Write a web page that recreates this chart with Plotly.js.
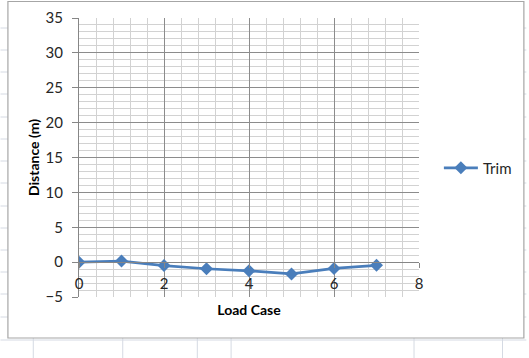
<!DOCTYPE html>
<html>
<head>
<meta charset="utf-8">
<script src="https://cdn.plot.ly/plotly-3.0.1.min.js"></script>
<style>
  html, body { margin: 0; padding: 0; background: #ffffff; }
  #chart { width: 529px; height: 358px; }
</style>
</head>
<body>
<div id="chart"></div>
<script>
// ---- data ----
const loadCase = [0, 1, 2, 3, 4, 5, 6, 7];
const trim = [0, 0.15, -0.5, -0.95, -1.25, -1.7, -0.9, -0.45];
const seriesName = "Trim";
const xTickVals = [0, 2, 4, 6, 8];
const yTickVals = [-5, 0, 5, 10, 15, 20, 25, 30, 35];

// ---- layout geometry (pixels) ----
const W = 529, H = 358;
const M = { l: 79, r: 108, t: 18, b: 61 };
const pw = W - M.l - M.r, ph = H - M.t - M.b;
const px = x => (x - M.l) / pw;          // page px -> paper x
const py = y => (H - M.b - y) / ph;      // page px -> paper y

const cellColor = "#d5dae3";
const shapes = [];
// spreadsheet cell lines (background)
[28, 50, 72, 94, 117, 139, 161, 183, 206, 228, 250, 272, 294, 317, 340].forEach(y => {
  shapes.push({ type: "line", xref: "paper", yref: "paper", layer: "below",
    x0: px(0), x1: px(W), y0: py(y), y1: py(y), line: { color: cellColor, width: 1 } });
});
[33, 123, 198, 232, 416, 505].forEach(x => {
  shapes.push({ type: "line", xref: "paper", yref: "paper", layer: "below",
    x0: px(x), x1: px(x), y0: py(338), y1: py(H), line: { color: cellColor, width: 1 } });
});
// chart area
shapes.push({ type: "rect", xref: "paper", yref: "paper", layer: "below",
  x0: px(7.5), x1: px(526.5), y0: py(338), y1: py(1.5),
  fillcolor: "#ffffff", line: { color: "#a6a6a6", width: 1.2 } });

const font = "Lato, 'Open Sans', 'DejaVu Sans', sans-serif";

const trace = {
  x: loadCase, y: trim, name: seriesName,
  type: "scatter", mode: "lines+markers",
  line: { color: "#4a7ebb", width: 2.75 },
  marker: { symbol: "diamond", size: 10, color: "#4a7ebb" }
};

const layout = {
  width: W, height: H,
  margin: M,
  paper_bgcolor: "#ffffff",
  plot_bgcolor: "rgba(0,0,0,0)",
  font: { family: font, size: 15, color: "#262626" },
  showlegend: true,
  legend: { x: px(441), y: py(168), xanchor: "left", yanchor: "middle",
    font: { family: font, size: 15, color: "#262626" }, bgcolor: "rgba(0,0,0,0)",
    itemwidth: 34 },
  xaxis: {
    range: [0, 8], tickvals: xTickVals, ticktext: xTickVals.map(String),
    anchor: "free", position: 5 / 40,
    showline: true, linecolor: "#868686", linewidth: 1,
    ticks: "outside", ticklen: 5, tickcolor: "#868686",
    ticklabelstandoff: 3,
    showgrid: true, gridcolor: "#8c8c8c", gridwidth: 1,
    minor: { dtick: 0.4, showgrid: true, gridcolor: "#d2d2d2", gridwidth: 1, ticks: "" },
    zeroline: false,
    title: { text: "<b>Load Case</b>", font: { family: font, size: 14, color: "#000" }, standoff: 14 },
    tickfont: { family: font, size: 15, color: "#262626" },
    fixedrange: true
  },
  yaxis: {
    range: [-5, 35], tickvals: yTickVals,
    showline: true, linecolor: "#868686", linewidth: 1,
    ticks: "outside", ticklen: 6, tickcolor: "#868686",
    ticklabelstandoff: 6,
    showgrid: true, gridcolor: "#8c8c8c", gridwidth: 1,
    minor: { dtick: 1, showgrid: true, gridcolor: "#d2d2d2", gridwidth: 1, ticks: "" },
    zeroline: false,
    title: { text: "<b>Distance (m)</b>", font: { family: font, size: 14, color: "#000" }, standoff: 2 },
    tickfont: { family: font, size: 15, color: "#262626" },
    fixedrange: true
  },
  shapes: shapes
};

Plotly.newPlot("chart", [trace], layout, { displayModeBar: false, staticPlot: true });
</script>
</body>
</html>
